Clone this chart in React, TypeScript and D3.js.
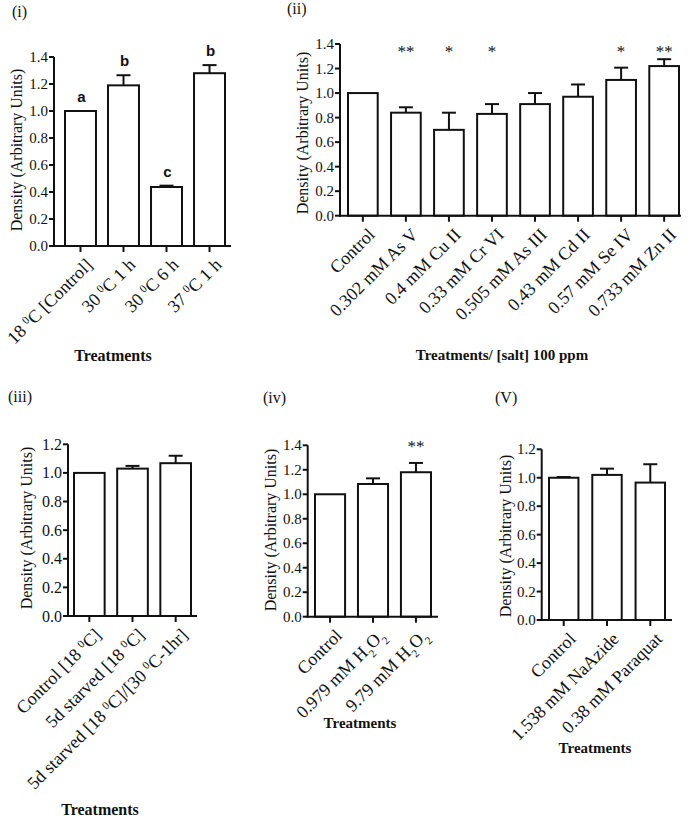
import React from "react";
import * as d3 from "d3";

// ---------- data ----------
const labelsI = ["18 ^0C [Control]", "30 ^0C 1 h", "30 ^0C 6 h", "37 ^0C  1 h"];
const meansI = [1.0, 1.19, 0.437, 1.28];
const errsI = [0, 0.075, 0.01, 0.06];
const lettersI = ["a", "b", "c", "b"];
const ticksI = [0, 0.2, 0.4, 0.6, 0.8, 1.0, 1.2, 1.4];

const labelsII = [
  "Control",
  "0.302 mM As V",
  "0.4 mM Cu II",
  "0.33 mM Cr VI",
  "0.505 mM As III",
  "0.43 mM Cd II",
  "0.57 mM Se IV",
  "0.733 mM Zn II",
];
const meansII = [1.0, 0.84, 0.7, 0.83, 0.91, 0.97, 1.107, 1.22];
const errsII = [0, 0.044, 0.14, 0.08, 0.09, 0.1, 0.1, 0.056];
const starsII = ["", "**", "*", "*", "", "", "*", "**"];
const ticksII = [0, 0.2, 0.4, 0.6, 0.8, 1.0, 1.2, 1.4];

const labelsIII = ["Control [18 ^0C]", "5d starved [18 ^0C]", "5d starved [18 ^0C]/[30 ^0C-1hr]"];
const meansIII = [1.0, 1.03, 1.068];
const errsIII = [0, 0.019, 0.052];
const ticksIII = [0, 0.2, 0.4, 0.6, 0.8, 1.0, 1.2];

const labelsIV = ["Control", "0.979 mM H_2O_2", "9.79 mM H_2O_2"];
const meansIV = [1.0, 1.084, 1.18];
const errsIV = [0, 0.046, 0.076];
const starsIV = ["", "", "**"];
const ticksIV = [0, 0.2, 0.4, 0.6, 0.8, 1.0, 1.2, 1.4];

const labelsV = ["Control", "1.538 mM NaAzide", "0.38 mM Paraquat"];
const meansV = [1.0, 1.02, 0.966];
const errsV = [0.005, 0.044, 0.129];
const ticksV = [0, 0.2, 0.4, 0.6, 0.8, 1.0, 1.2];

// ---------- styling ----------
const SERIF = "'Liberation Serif', 'Times New Roman', serif";
const SANS = "'Liberation Sans', Arial, sans-serif";
const INK = "#111";

function Rich({ s }: { s: string }) {
  const parts = s.split(/(\^[^ ]|_[^ ])/).filter((p) => p !== "");
  return (
    <>
      {parts.map((p, i) => {
        if (p[0] === "^" && p.length === 2)
          return (
            <tspan key={i} baselineShift="super" fontSize="0.62em">
              {p[1]}
            </tspan>
          );
        if (p[0] === "_" && p.length === 2)
          return (
            <tspan key={i} baselineShift="sub" fontSize="0.62em">
              {p[1]}
            </tspan>
          );
        return <tspan key={i}>{p}</tspan>;
      })}
    </>
  );
}

type Cfg = {
  axisX: number;
  barsL: number;
  barsR: number;
  axisEnd: number;
  y0: number;
  yTop: number;
  yMax: number;
  pi: number;
  tickFont: number;
  yTitle: [number, number];
  panelLabel: string;
  panelPos: [number, number];
  xTitle: string;
  xTitlePos: [number, number];
  xTitleFont: number;
  starOffset?: number;
};

function Panel({
  cfg,
  labels,
  means,
  errs,
  ticks,
  stars,
  letters,
}: {
  cfg: Cfg;
  labels: string[];
  means: number[];
  errs: number[];
  ticks: number[];
  stars?: string[];
  letters?: string[];
}) {
  const x = d3
    .scaleBand<string>()
    .domain(labels.map((_, i) => String(i)))
    .range([cfg.barsL, cfg.barsR])
    .paddingInner(cfg.pi)
    .paddingOuter(0);
  const y = d3.scaleLinear().domain([0, cfg.yMax]).range([cfg.y0, cfg.yTop]);
  const bw = x.bandwidth();
  const fmt = d3.format(".1f");
  return (
    <g>
      <text x={cfg.panelPos[0]} y={cfg.panelPos[1]} fontFamily={SERIF} fontSize={16} fill={INK}>
        {cfg.panelLabel}
      </text>
      {means.map((m, i) => {
        const cx = (x(String(i)) as number) + bw / 2;
        const top = y(m);
        const et = y(m + errs[i]);
        return (
          <g key={i}>
            <rect
              x={x(String(i))}
              y={top}
              width={bw}
              height={y(0) - top}
              fill="#fff"
              stroke={INK}
              strokeWidth={2}
            />
            {errs[i] > 0 && (
              <g stroke={INK} strokeWidth={2}>
                <line x1={cx} x2={cx} y1={top} y2={et} />
                <line x1={cx - 7} x2={cx + 7} y1={et} y2={et} />
              </g>
            )}
            {letters && letters[i] && (
              <text
                x={cx + 1}
                y={et - 9}
                textAnchor="middle"
                fontFamily={SANS}
                fontWeight="bold"
                fontSize={15}
                fill={INK}
              >
                {letters[i]}
              </text>
            )}
            {stars && stars[i] && (
              <text
                x={cx}
                y={cfg.yTop + (cfg.starOffset ?? 12)}
                textAnchor="middle"
                fontFamily={SERIF}
                fontSize={17}
                fill={INK}
              >
                {stars[i]}
              </text>
            )}
          </g>
        );
      })}
      {/* axes */}
      <line x1={cfg.axisX} x2={cfg.axisX} y1={cfg.y0 + 1} y2={cfg.yTop} stroke={INK} strokeWidth={2} />
      <line x1={cfg.axisX - 1} x2={cfg.axisEnd} y1={cfg.y0} y2={cfg.y0} stroke={INK} strokeWidth={2} />
      {ticks.map((t, i) => (
        <g key={i}>
          <line x1={cfg.axisX - 5} x2={cfg.axisX} y1={y(t)} y2={y(t)} stroke={INK} strokeWidth={2} />
          <text
            x={cfg.axisX - 6}
            y={y(t)}
            textAnchor="end"
            dominantBaseline="central"
            fontFamily={SERIF}
            fontSize={cfg.tickFont}
            fill={INK}
          >
            {fmt(t)}
          </text>
        </g>
      ))}
      {labels.map((l, i) => {
        const cx = (x(String(i)) as number) + bw / 2;
        return (
          <g key={i}>
            <line x1={cx} x2={cx} y1={cfg.y0} y2={cfg.y0 + 6} stroke={INK} strokeWidth={2} />
            <text
              transform={`translate(${cx + 13},${cfg.y0 + 20}) rotate(-45)`}
              textAnchor="end"
              fontFamily={SERIF}
              fontSize={18}
              fill={INK}
            >
              <Rich s={l} />
            </text>
          </g>
        );
      })}
      <text
        transform={`translate(${cfg.yTitle[0]},${cfg.yTitle[1]}) rotate(-90)`}
        textAnchor="middle"
        dominantBaseline="central"
        fontFamily={SERIF}
        fontSize={16}
        fill={INK}
      >
        Density (Arbitrary Units)
      </text>
      <text
        x={cfg.xTitlePos[0]}
        y={cfg.xTitlePos[1]}
        textAnchor="middle"
        fontFamily={SERIF}
        fontWeight="bold"
        fontSize={cfg.xTitleFont}
        fill={INK}
      >
        {cfg.xTitle}
      </text>
    </g>
  );
}

const cfgI: Cfg = {
  axisX: 54, barsL: 65, barsR: 225, axisEnd: 231, y0: 246, yTop: 57, yMax: 1.4, pi: 0.28,
  tickFont: 15, yTitle: [16, 150], panelLabel: "(i)", panelPos: [12, 17],
  xTitle: "Treatments", xTitlePos: [113, 361], xTitleFont: 16,
};
const cfgII: Cfg = {
  axisX: 340, barsL: 348, barsR: 679, axisEnd: 681, y0: 215.7, yTop: 44, yMax: 1.4, pi: 0.31,
  tickFont: 15, yTitle: [302, 133], panelLabel: "(ii)", panelPos: [287, 14],
  xTitle: "Treatments/ [salt] 100 ppm", xTitlePos: [502, 360], xTitleFont: 15, starOffset: 13,
};
const cfgIII: Cfg = {
  axisX: 68, barsL: 74, barsR: 191, axisEnd: 197, y0: 616, yTop: 444.3, yMax: 1.2, pi: 0.29,
  tickFont: 16, yTitle: [26, 528], panelLabel: "(iii)", panelPos: [8, 402],
  xTitle: "Treatments", xTitlePos: [100, 815], xTitleFont: 16,
};
const cfgIV: Cfg = {
  axisX: 307.7, barsL: 315, barsR: 431, axisEnd: 438, y0: 616.7, yTop: 445.3, yMax: 1.4, pi: 0.3,
  tickFont: 15, yTitle: [270, 530], panelLabel: "(iv)", panelPos: [263, 403],
  xTitle: "Treatments", xTitlePos: [360, 728], xTitleFont: 15, starOffset: 7,
};
const cfgV: Cfg = {
  axisX: 541.7, barsL: 549, barsR: 665, axisEnd: 672, y0: 620, yTop: 449.3, yMax: 1.2, pi: 0.32,
  tickFont: 15, yTitle: [505, 536], panelLabel: "(V)", panelPos: [495, 403],
  xTitle: "Treatments", xTitlePos: [595, 753], xTitleFont: 15,
};

export default function App() {
  return (
    <svg
      width={688}
      height={824}
      viewBox="0 0 688 824"
      style={{ position: "absolute", left: 0, top: 0, background: "#fff", display: "block" }}
    >
      <rect width={688} height={824} fill="#fff" />
      <Panel cfg={cfgI} labels={labelsI} means={meansI} errs={errsI} ticks={ticksI} letters={lettersI} />
      <Panel cfg={cfgII} labels={labelsII} means={meansII} errs={errsII} ticks={ticksII} stars={starsII} />
      <Panel cfg={cfgIII} labels={labelsIII} means={meansIII} errs={errsIII} ticks={ticksIII} />
      <Panel cfg={cfgIV} labels={labelsIV} means={meansIV} errs={errsIV} ticks={ticksIV} stars={starsIV} />
      <Panel cfg={cfgV} labels={labelsV} means={meansV} errs={errsV} ticks={ticksV} />
    </svg>
  );
}
